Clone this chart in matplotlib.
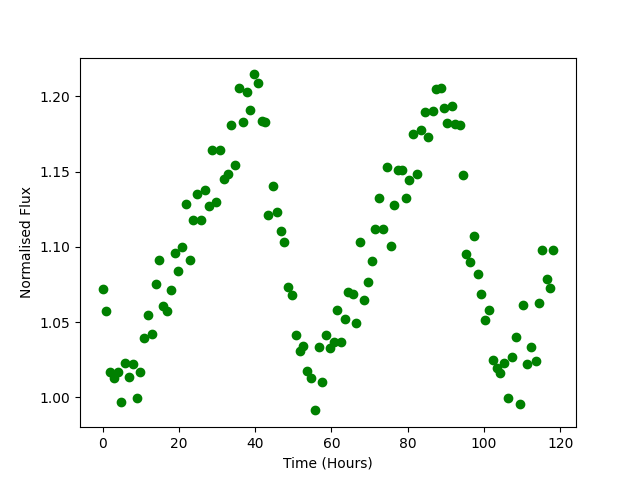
import matplotlib
matplotlib.use("Agg")
import matplotlib.pyplot as plt

# Waktu pengamatan (jam) dan fluks ternormalisasi
time_hours = [
    0.0, 0.97, 1.84, 2.97, 4.0, 4.9, 5.77, 6.9, 7.95, 8.92,
    9.8, 10.84, 11.89, 12.94, 13.99, 14.88, 15.75, 16.98, 17.93, 18.9,
    19.76, 20.81, 21.86, 22.91, 23.62, 24.75, 25.9, 26.96, 27.82, 28.6,
    29.74, 30.8, 31.8, 32.9, 33.7, 34.7, 35.8, 36.8, 37.9, 38.7,
    39.6, 40.8, 41.7, 42.6, 43.5, 44.6, 45.6, 46.8, 47.6, 48.6,
    49.7, 50.7, 51.7, 52.6, 53.6, 54.7, 55.7, 56.8, 57.6, 58.6,
    59.7, 60.6, 61.4, 62.5, 63.6, 64.4, 65.7, 66.5, 67.5, 68.5,
    69.6, 70.7, 71.4, 72.5, 73.6, 74.6, 75.7, 76.5, 77.5, 78.6,
    79.6, 80.4, 81.4, 82.3, 83.6, 84.5, 85.4, 86.5, 87.3, 88.6,
    89.6, 90.4, 91.5, 92.5, 93.7, 94.6, 95.3, 96.4, 97.4, 98.5,
    99.2, 100.3, 101.4, 102.4, 103.5, 104.3, 105.2, 106.4, 107.4, 108.5,
    109.3, 110.3, 111.3, 112.3, 113.6, 114.3, 115.2, 116.4, 117.4, 118.2,
]
flux = [
    1.0722, 1.0576, 1.0171, 1.0131, 1.0171, 0.9971, 1.0231, 1.0135, 1.0224, 0.9998,
    1.0171, 1.0392, 1.0550, 1.0419, 1.0755, 1.0915, 1.0605, 1.0573, 1.0716, 1.0961,
    1.0842, 1.1001, 1.1287, 1.0915, 1.1176, 1.1349, 1.1181, 1.1380, 1.1271, 1.1641,
    1.1298, 1.1641, 1.1453, 1.1486, 1.1812, 1.1546, 1.2058, 1.1832, 1.2029, 1.1912,
    1.2146, 1.2090, 1.1839, 1.1830, 1.1214, 1.1402, 1.1231, 1.1108, 1.1030, 1.0733,
    1.0682, 1.0417, 1.0310, 1.0345, 1.0173, 1.0131, 0.9914, 1.0337, 1.0100, 1.0412,
    1.0328, 1.0370, 1.0583, 1.0370, 1.0523, 1.0698, 1.0690, 1.0492, 1.1035, 1.0649,
    1.0766, 1.0908, 1.1116, 1.1327, 1.1116, 1.1533, 1.1008, 1.1280, 1.1508, 1.1508,
    1.1327, 1.1447, 1.1752, 1.1482, 1.1779, 1.1898, 1.1732, 1.1905, 1.2047, 1.2058,
    1.1920, 1.1825, 1.1934, 1.1819, 1.1812, 1.1480, 1.0950, 1.0900, 1.1075, 1.0820,
    1.0690, 1.0516, 1.0580, 1.0250, 1.0197, 1.0164, 1.0230, 0.9998, 1.0266, 1.0400,
    0.9958, 1.0616, 1.0224, 1.0337, 1.0239, 1.0630, 1.0980, 1.0789, 1.0729, 1.0977,
]

plt.figure(figsize=(6.4, 4.8), dpi=100)
plt.plot(time_hours, flux, "go")
plt.xlabel("Time (Hours)")
plt.ylabel("Normalised Flux")
plt.savefig("out.png")
